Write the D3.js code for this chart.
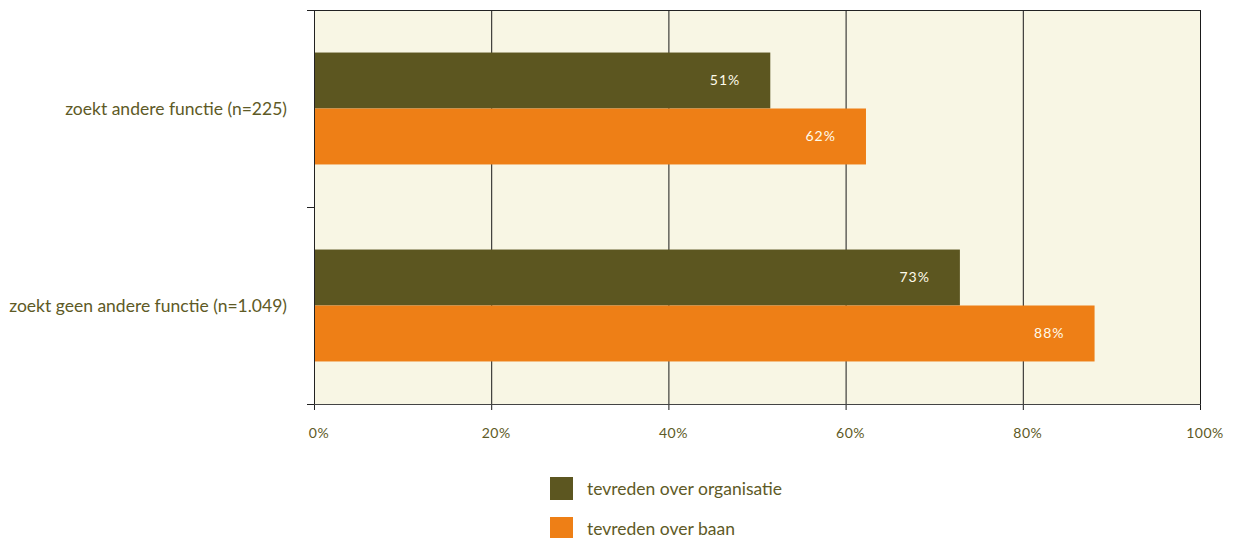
<!DOCTYPE html>
<html>
<head>
<meta charset="utf-8">
<script src="https://cdn.jsdelivr.net/npm/d3@7"></script>
<style>
  body { margin: 0; background: #fff; }
  svg { display: block; }
</style>
</head>
<body>
<div class="canvas"></div>
<script>
// data
const categories = ['zoekt andere functie (n=225)', 'zoekt geen andere functie (n=1.049)']
const series = ['tevreden over organisatie', 'tevreden over baan']
const organisatie = [51.5, 72.9]
const baan = [62.3, 88.1]
const valueLabels = [['51%', '62%'], ['73%', '88%']]
const xTicks = [0, 20, 40, 60, 80, 100]

const width = 1233
const height = 538
const margin = {top: 10, left: 314, right: 33, bottom: 135}
const textColor = '#5e5a26'
const colors = ['#5c5620', '#ee7f16']
const labelFont = 'Lato, "Open Sans", sans-serif'

const svg = d3.select('.canvas')
  .append('svg')
  .attr('width', width)
  .attr('height', height)

const graph = svg.append('g')

const x = d3.scaleLinear()
  .domain([0, 100])
  .range([margin.left, width - margin.right])

const y = d3.scaleBand()
  .domain(categories)
  .range([margin.top, height - margin.bottom + 1])

const inner = d3.scaleBand()
  .domain(series)
  .range([0, y.bandwidth()])
  .paddingOuter(0.76)
  .paddingInner(0)

// plot background
graph.append('rect')
  .attr('x', x(0))
  .attr('y', y.range()[0])
  .attr('width', x(100) - x(0))
  .attr('height', y.range()[1] - y.range()[0])
  .attr('fill', '#f8f6e4')

// vertical gridlines
graph.selectAll('.grid')
  .data(xTicks.slice(1))
  .enter()
  .append('line')
  .attr('class', 'grid')
  .attr('x1', d => x(d) + 0.5)
  .attr('x2', d => x(d) + 0.5)
  .attr('y1', y.range()[0])
  .attr('y2', y.range()[1] + 6)
  .attr('stroke', '#1a1a1a')
  .attr('stroke-width', 1)

// bars
const rows = categories.map((c, i) => ({cat: c, values: [organisatie[i], baan[i]], labels: valueLabels[i]}))

const groups = graph.selectAll('.group')
  .data(rows)
  .enter()
  .append('g')
  .attr('class', 'group')
  .attr('transform', d => `translate(0, ${y(d.cat)})`)

groups.selectAll('rect')
  .data(d => d.values.map((v, j) => ({s: series[j], v: v, label: d.labels[j], j: j})))
  .enter()
  .append('rect')
  .attr('x', x(0))
  .attr('y', d => inner(d.s))
  .attr('width', d => x(d.v) - x(0))
  .attr('height', inner.bandwidth())
  .attr('fill', d => colors[d.j])

groups.selectAll('.value')
  .data(d => d.values.map((v, j) => ({s: series[j], v: v, label: d.labels[j], j: j})))
  .enter()
  .append('text')
  .attr('class', 'value')
  .attr('x', d => x(d.v) - 30)
  .attr('y', d => inner(d.s) + inner.bandwidth() / 2)
  .attr('dy', '0.35em')
  .attr('text-anchor', 'end')
  .attr('font-family', labelFont)
  .attr('font-size', 14)
  .attr('letter-spacing', 1)
  .attr('fill', '#fffbea')
  .text(d => d.label)

// left axis
const yAxisLine = graph.append('g')
yAxisLine.append('line')
  .attr('x1', x(0) + 0.5).attr('x2', x(0) + 0.5)
  .attr('y1', y.range()[0]).attr('y2', y.range()[1] + 6)
  .attr('stroke', '#222')
yAxisLine.selectAll('.ytick')
  .data([y.range()[0], y(categories[1]), y.range()[1]])
  .enter()
  .append('line')
  .attr('x1', x(0) - 7).attr('x2', x(0))
  .attr('y1', d => d + 0.5).attr('y2', d => d + 0.5)
  .attr('stroke', '#222')

// top and bottom border
graph.append('line')
  .attr('x1', x(0)).attr('x2', x(100) + 1)
  .attr('y1', y.range()[0] + 0.5).attr('y2', y.range()[0] + 0.5)
  .attr('stroke', '#222')
graph.append('line')
  .attr('x1', x(0)).attr('x2', x(100) + 1)
  .attr('y1', y.range()[1] + 0.5).attr('y2', y.range()[1] + 0.5)
  .attr('stroke', '#444')

// category labels
graph.selectAll('.cat')
  .data(categories)
  .enter()
  .append('text')
  .attr('class', 'cat')
  .attr('x', 287)
  .attr('y', d => y(d) + y.bandwidth() / 2)
  .attr('dy', '0.35em')
  .attr('text-anchor', 'end')
  .attr('font-family', labelFont)
  .attr('font-size', 17.5)
  .attr('fill', textColor)
  .text(d => d)

// x tick labels
graph.selectAll('.xlabel')
  .data(xTicks)
  .enter()
  .append('text')
  .attr('class', 'xlabel')
  .attr('x', d => x(d) + 5)
  .attr('y', 438)
  .attr('text-anchor', 'middle')
  .attr('font-family', labelFont)
  .attr('font-size', 14)
  .attr('letter-spacing', 0.5)
  .attr('fill', textColor)
  .text(d => d + '%')

// legend
const legend = graph.selectAll('.legend')
  .data(series)
  .enter()
  .append('g')
  .attr('class', 'legend')
  .attr('transform', (d, i) => `translate(550, ${477 + i * 40})`)

legend.append('rect')
  .attr('width', 23)
  .attr('height', 23)
  .attr('fill', (d, i) => colors[i])

legend.append('text')
  .attr('x', 37)
  .attr('y', 12)
  .attr('dy', '0.35em')
  .attr('font-family', labelFont)
  .attr('font-size', 17.5)
  .attr('fill', textColor)
  .text(d => d)
</script>
</body>
</html>
